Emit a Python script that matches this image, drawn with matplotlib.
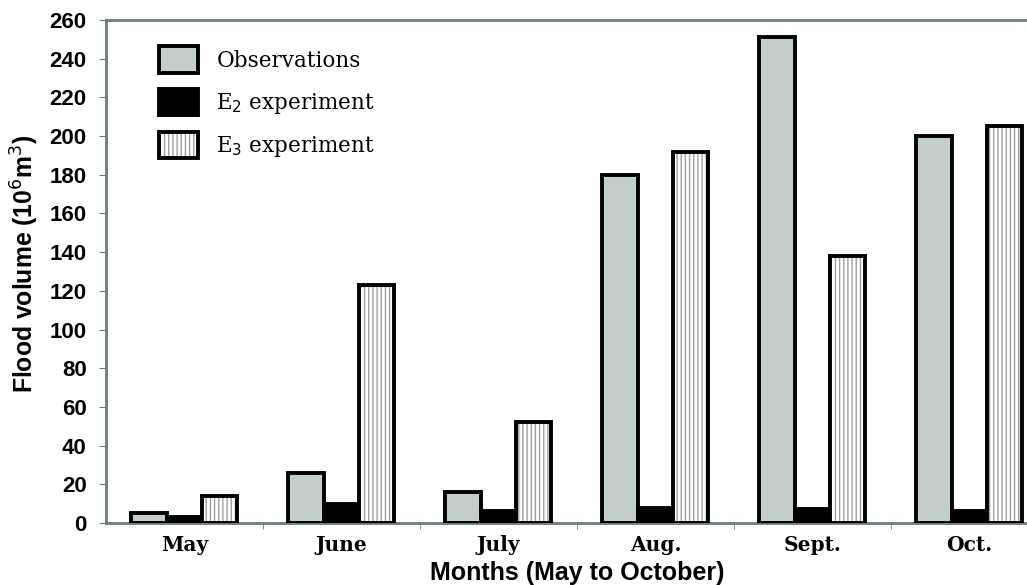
import numpy as np
import matplotlib.pyplot as plt
from matplotlib.patches import Patch
from matplotlib.legend_handler import HandlerTuple

months = ["May", "June", "July", "Aug.", "Sept.", "Oct."]
observations = [5, 26, 16, 180, 251, 200]
e2_experiment = [3, 10, 6, 8, 7, 6]
e3_experiment = [14, 123, 52, 192, 138, 205]

obs_color = '#c3cdcb'
spine_color = '#6d7c7a'
hatch_grey = '#a0a0a0'
plt.rcParams['hatch.linewidth'] = 1.0
plt.rcParams['hatch.color'] = hatch_grey


def draw_bar():
    fig = plt.figure(figsize=(10.27, 5.85), dpi=100)
    # the original axes runs off the right edge of the image
    ax = fig.add_axes([0.1032, 0.106, 0.9172, 0.8598])

    ind = np.arange(len(months))
    width = 0.225
    lw = 2.8

    ax.bar(ind - width, observations, width, color=obs_color, edgecolor='black', linewidth=lw, zorder=3)
    ax.bar(ind, e2_experiment, width, color='black', edgecolor='black', linewidth=lw, zorder=3)
    # hatch in grey, outline in black -> two layers
    ax.bar(ind + width, e3_experiment, width, color='white', edgecolor=hatch_grey, hatch='||||', linewidth=0, zorder=3)
    ax.bar(ind + width, e3_experiment, width, fill=False, edgecolor='black', linewidth=lw, zorder=4)

    ax.set_ylim(0, 260)
    ax.set_yticks(np.arange(0, 261, 20))
    ax.set_xlim(-0.5, 5.5)
    ax.set_xticks(ind)
    ax.set_xticklabels(months, fontfamily='DejaVu Serif', fontweight='bold', fontsize=14.5)
    ax.set_xticks(ind[:-1] + 0.5, minor=True)
    ax.tick_params(axis='x', which='major', length=0, pad=9)
    ax.tick_params(axis='x', which='minor', length=4, color=spine_color, direction='out')
    ax.tick_params(axis='y', length=5, color=spine_color, labelsize=16, pad=9)
    for lab in ax.get_yticklabels():
        lab.set_fontfamily('Liberation Sans')
        lab.set_fontweight('bold')

    for s in ['left', 'top', 'bottom']:
        ax.spines[s].set_color(spine_color)
        ax.spines[s].set_linewidth(2)
    ax.spines['right'].set_visible(False)

    ax.set_ylabel('Flood volume (10$^6$m$^3$)', fontfamily='Liberation Sans', fontweight='bold', fontsize=17.8)
    ax.yaxis.set_label_coords(-0.0695, 0.515)
    ax.set_xlabel('Months (May to October)', fontfamily='Liberation Sans', fontweight='bold', fontsize=18, labelpad=4)

    h_obs = Patch(facecolor=obs_color, edgecolor='black', linewidth=lw)
    h_e2 = Patch(facecolor='black', edgecolor='black', linewidth=lw)
    h_e3a = Patch(facecolor='white', edgecolor=hatch_grey, hatch='||||', linewidth=0)
    h_e3b = Patch(fill=False, edgecolor='black', linewidth=lw)
    ax.legend([h_obs, h_e2, (h_e3a, h_e3b)],
              ['Observations', 'E$_2$ experiment', 'E$_3$ experiment'],
              handler_map={tuple: HandlerTuple(ndivide=1, pad=0)},
              loc='upper left', bbox_to_anchor=(0.036, 0.986), frameon=False,
              prop={'family': 'DejaVu Serif', 'size': 15.5},
              handlelength=1.8, handleheight=1.53, labelspacing=0.72, handletextpad=0.85)

    plt.savefig('out.png', dpi=100)


if __name__ == '__main__':
    draw_bar()
